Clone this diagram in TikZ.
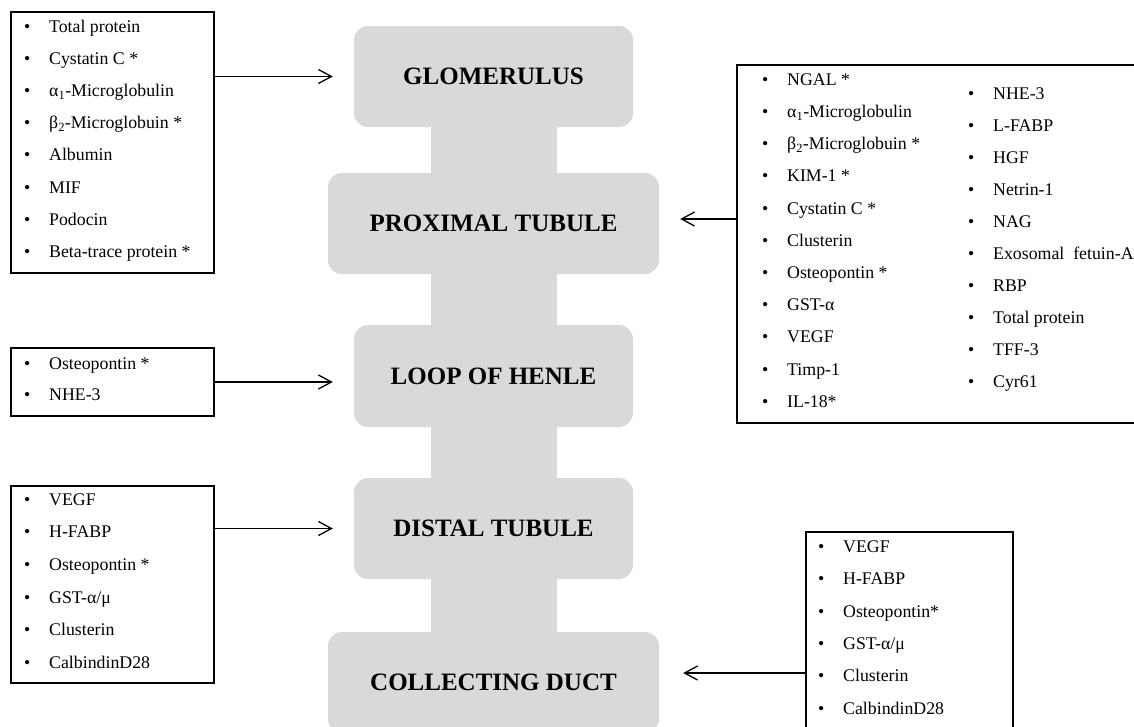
\documentclass[tikz,border=0pt]{standalone}
\usepackage{fontspec}
\setmainfont{Liberation Serif}
\usetikzlibrary{arrows.meta}

\definecolor{tubegray}{HTML}{D9D9D9}
\tikzset{
  segment/.style={fill=tubegray, rounded corners=14pt, inner sep=0pt,
    font=\fontsize{25}{30}\selectfont\bfseries},
  listbox/.style={draw, line width=1.3pt, inner sep=0pt},
  item/.style={anchor=mid west, inner sep=0pt, font=\fontsize{17.8}{21}\selectfont},
  link/.style={line width=1.3pt, -{Straight Barb[length=13pt,width=14pt]}}
}
\newcommand{\bul}{\makebox[25pt][l]{\textbullet}}

\begin{document}
\begin{tikzpicture}[x=1pt, y=-1pt]
  \useasboundingbox (0,0) rectangle (1134,726);
  \clip (0,0) rectangle (1134,726);

  % nephron
  \fill[tubegray] (431,100) rectangle (557,700);
  \node[segment, minimum width=279pt, minimum height=101pt] (glom) at (493.5,76.5) {GLOMERULUS};
  \node[segment, minimum width=331pt, minimum height=101pt] (prox) at (493.5,223.5) {PROXIMAL TUBULE};
  \node[segment, minimum width=279pt, minimum height=102pt] (loop) at (493.5,376) {LOOP OF HENLE};
  \node[segment, minimum width=279pt, minimum height=101pt] (dist) at (493.5,528.5) {DISTAL TUBULE};
  \node[segment, minimum width=331pt, minimum height=101pt] (duct) at (493.5,682.5) {COLLECTING DUCT};

  % glomerulus markers
  \node[listbox, minimum width=203pt, minimum height=261pt] (glomlist) at (112.5,142.5) {};
  \foreach \t [count=\i] in {Total protein, Cystatin C *, α\textsubscript{1}-Microglobulin,
      β\textsubscript{2}-Microglobuin *, Albumin, MIF, Podocin, Beta-trace protein *}
    \node[item] (gm\i) at (24,{30+32.15*(\i-1)}) {\bul\t};

  % proximal tubule markers
  \node[listbox, minimum width=404pt, minimum height=358pt] (proxlist) at (939,244) {};
  \foreach \t [count=\i] in {NGAL  *, α\textsubscript{1}-Microglobulin, β\textsubscript{2}-Microglobuin *,
      KIM-1  *, Cystatin C  *, Clusterin, Osteopontin *, GST-α, VEGF, Timp-1, IL-18*}
    \node[item] (pa\i) at (762,{83+32.2*(\i-1)}) {\bul\t};
  \foreach \t [count=\i] in {NHE-3, L-FABP, HGF, Netrin-1, NAG, Exosomal\ \ fetuin-A,
      RBP, Total protein, TFF-3, Cyr61}
    \node[item] (pb\i) at (968,{97+32*(\i-1)}) {\bul\t};

  % loop of henle markers
  \node[listbox, minimum width=203pt, minimum height=68pt] (looplist) at (112.5,382) {};
  \foreach \t [count=\i] in {Osteopontin *, NHE-3}
    \node[item] (lm\i) at (24,{367+31*(\i-1)}) {\bul\t};

  % distal tubule markers
  \node[listbox, minimum width=203pt, minimum height=197pt] (distlist) at (112.5,584.5) {};
  \foreach \t [count=\i] in {VEGF, H-FABP, Osteopontin *, GST-α/μ, Clusterin, CalbindinD28}
    \node[item] (dm\i) at (24,{503+32.6*(\i-1)}) {\bul\t};

  % collecting duct markers
  \node[listbox, minimum width=207pt, minimum height=198pt] (ductlist) at (909.5,631) {};
  \foreach \t [count=\i] in {VEGF, H-FABP, Osteopontin*, GST-α/μ, Clusterin, CalbindinD28}
    \node[item] (cm\i) at (818,{550+32.4*(\i-1)}) {\bul\t};

  % arrows
  \draw[link] (glomlist.east |- glom.west) -- ([xshift=-21pt]glom.west);
  \draw[link] ([yshift=4.5pt]proxlist.west |- prox.east) -- ([xshift=21pt,yshift=4.5pt]prox.east);
  \draw[link] (looplist.east) -- ([xshift=-21pt]loop.west |- looplist.east);
  \draw[link] (distlist.east |- dist.west) -- ([xshift=-21pt]dist.west);
  \draw[link] ([yshift=9.5pt]ductlist.west |- duct.east) -- ([xshift=24pt,yshift=9.5pt]duct.east);
\end{tikzpicture}
\end{document}
